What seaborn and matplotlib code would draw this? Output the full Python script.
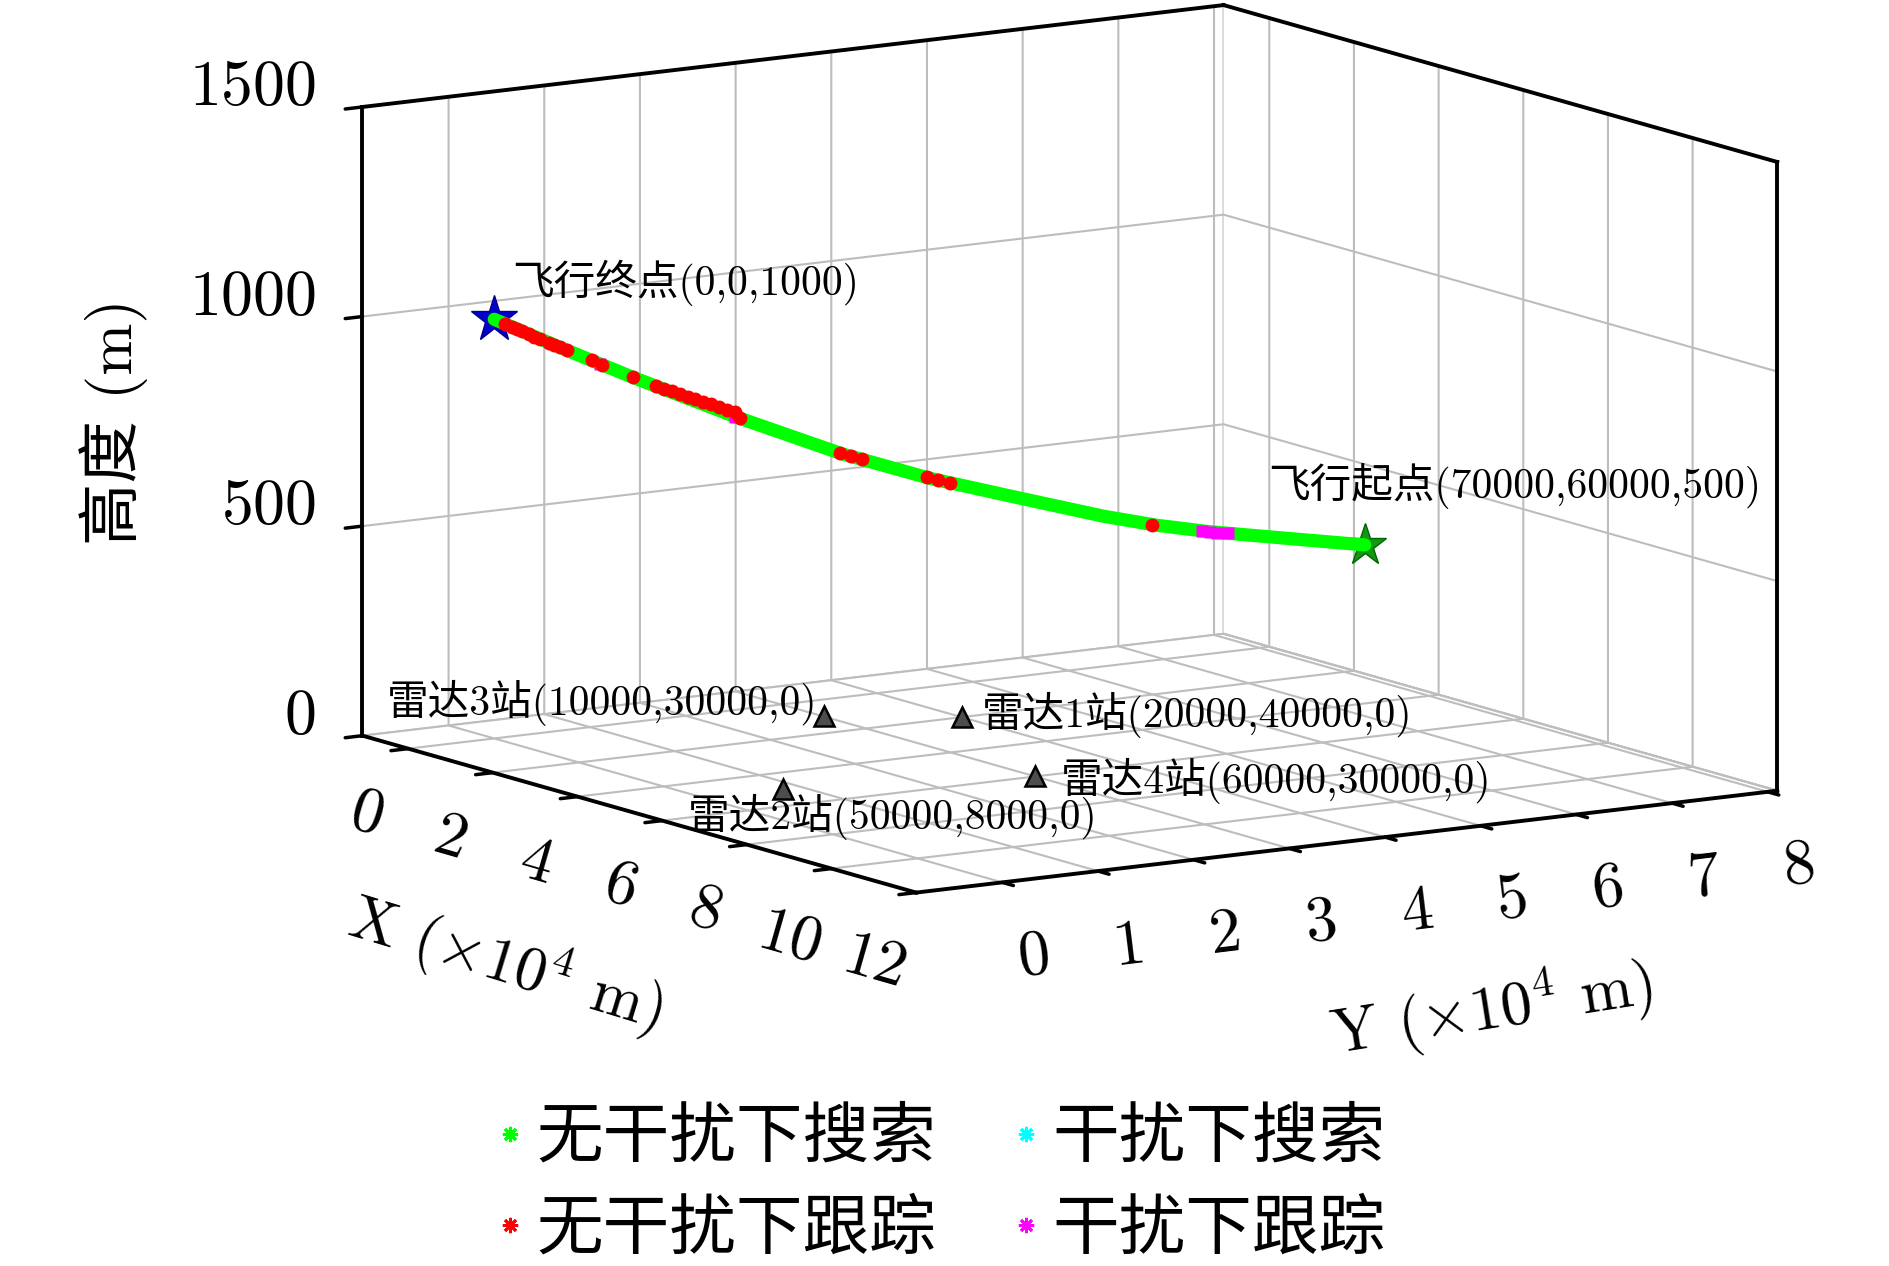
import numpy as np
import matplotlib
matplotlib.use("Agg")
import matplotlib.pyplot as plt
import matplotlib.transforms as mtransforms
from matplotlib.lines import Line2D
from mpl_toolkits.mplot3d import proj3d
import seaborn as sns

# flight path (m), read along the curve from the end point back to the start point
path_x = [0, 5600, 11200, 19600, 28000, 35000, 42000, 49000, 53200, 57400, 64400, 70000]
path_y = [0, 4800, 9600, 16800, 24000, 30000, 36000, 42000, 45600, 49200, 55200, 60000]
path_z = [1000, 932, 867, 776, 694, 640, 598, 557, 538, 525, 511, 500]

# tracking without jamming (red dots on the path)
trk_x = [840, 1400, 1820, 2240, 2800, 3220, 3640, 4410, 4830, 5250, 5880, 7840, 8680, 11130,
         13020, 13650, 14280, 14910, 15540, 16170, 16800, 17430, 18060, 18690, 19320, 19740,
         27790, 28700, 29610, 34790, 35700, 36610, 52920]
trk_y = [720, 1200, 1560, 1920, 2400, 2760, 3120, 3780, 4140, 4500, 5040, 6720, 7440, 9540,
         11160, 11700, 12240, 12780, 13320, 13860, 14400, 14940, 15480, 16020, 16560, 16920,
         23820, 24600, 25380, 29820, 30600, 31380, 45360]
trk_z = [990, 983, 978, 973, 966, 960, 955, 946, 941, 936, 929, 906, 896, 868,
         847, 841, 836, 830, 824, 818, 813, 807, 801, 795, 789, 775,
         696, 689, 682, 642, 636, 630, 539]

# tracking under jamming (magenta)
jtrk_x = [8470, 19320, 56910, 57540, 58100, 59010]
jtrk_y = [7260, 16560, 48780, 49320, 49800, 50580]
jtrk_z = [898, 778, 526, 525, 523, 522]

# search under jamming (cyan) - nothing visible on the path
jsrch_x, jsrch_y, jsrch_z = [], [], []

radar_names = ["雷达1站", "雷达2站", "雷达3站", "雷达4站"]
radar_x = [20000, 50000, 10000, 60000]
radar_y = [40000, 8000, 30000, 30000]
radar_z = [0, 0, 0, 0]

start_pt = (70000, 60000, 500)
end_pt = (0, 0, 1000)

legend_labels = ["无干扰下搜索", "无干扰下跟踪", "干扰下搜索", "干扰下跟踪"]
state_colors = sns.color_palette(["#00ff00", "#ff0000", "#00ffff", "#ff00ff"])

x_ticks = [0, 20000, 40000, 60000, 80000, 100000, 120000]
x_ticklabels = ["0", "2", "4", "6", "8", "10", "12"]
y_ticks = [0, 10000, 20000, 30000, 40000, 50000, 60000, 70000, 80000]
y_ticklabels = ["0", "1", "2", "3", "4", "5", "6", "7", "8"]
z_ticks = [0, 500, 1000, 1500]

XLIM = (-10800, 120000)
YLIM = (-9000, 81000)
ZLIM = (0, 1500)

sns.set_style("white")
plt.rcParams["font.family"] = ["cmr10", "Noto Sans CJK SC", "DejaVu Sans"]
plt.rcParams["mathtext.fontset"] = "cm"
plt.rcParams["axes.unicode_minus"] = False
plt.rcParams["axes.formatter.use_mathtext"] = True
plt.rcParams["grid.color"] = "#bdbdbd"
plt.rcParams["grid.linewidth"] = 1.5
plt.rcParams["xtick.color"] = "black"
plt.rcParams["ytick.color"] = "black"
plt.rcParams["text.color"] = "black"
plt.rcParams["axes.labelcolor"] = "black"

W, H = 1890, 1266
fig = plt.figure(figsize=(W / 100, H / 100), dpi=100)
ax = fig.add_axes([0.1, 0.1, 0.8, 0.8], projection="3d")
ax.set_proj_type("ortho")
ax.view_init(elev=10.55, azim=-32.87)
ax.set_box_aspect((1021, 1026, 640))
ax.computed_zorder = False
ax.set_xlim(*XLIM)
ax.set_ylim(*YLIM)
ax.set_zlim(*ZLIM)

ax.set_xticks(x_ticks)
ax.set_xticklabels(x_ticklabels)
ax.set_yticks(y_ticks)
ax.set_yticklabels(y_ticklabels)
ax.set_zticks(z_ticks)
ax.grid(True)
ax.zaxis.set_ticks_position("lower")
ax.zaxis.set_label_position("lower")

for axis in (ax.xaxis, ax.yaxis, ax.zaxis):
    axis.set_pane_color((1, 1, 1, 1))
    axis.pane.set_edgecolor("#bdbdbd")
    axis.pane.set_linewidth(1.5)
    axis.line.set_color((0, 0, 0, 0))
    axis._axinfo["tick"]["inward_factor"] = 0.25
    axis._axinfo["tick"]["outward_factor"] = 0.0
    axis._axinfo["tick"]["linewidth"] = {True: 2.5, False: 1.0}
    axis._axinfo["grid"]["color"] = "#bdbdbd"
    axis._axinfo["grid"]["linewidth"] = 1.5

ax.tick_params(axis="x", labelsize=46, pad=20, labelrotation=-16)
ax.tick_params(axis="y", labelsize=46, pad=25, labelrotation=7)
ax.tick_params(axis="z", labelsize=46, pad=11)
for t in ax.get_zticklabels():
    t.set_ha("right")
    t.set_va("baseline")

ax.set_xlabel("")
ax.set_ylabel("")
ax.set_zlabel("")
fig.text(506 / W, 1 - 964 / H, r"X ($\times10^4$ m)", fontsize=45, rotation=-17,
         ha="center", va="center", rotation_mode="anchor")
fig.text(1492 / W, 1 - 1010 / H, r"Y ($\times10^4$ m)", fontsize=45, rotation=9,
         ha="center", va="center", rotation_mode="anchor")
fig.text(114 / W, 1 - 422 / H, "高度 (m)", fontsize=45, rotation=90,
         ha="center", va="center", rotation_mode="anchor")

# black box frame (MATLAB style)
x0, x1 = XLIM
y0, y1 = YLIM
z0, z1 = ZLIM
frame = [((x0, x0), (y0, y0), (z0, z1)),
         ((x0, x1), (y0, y0), (z0, z0)),
         ((x1, x1), (y0, y1), (z0, z0)),
         ((x0, x0), (y0, y1), (z1, z1)),
         ((x0, x1), (y1, y1), (z1, z1)),
         ((x1, x1), (y1, y1), (z0, z1))]
for fx, fy, fz in frame:
    ax.plot(fx, fy, fz, color="black", lw=2.8, zorder=1, solid_capstyle="projecting")

# start / end stars
ax.plot([end_pt[0]], [end_pt[1]], [end_pt[2]], ls="none", marker="*", ms=35,
        mfc="#0000cd", mec="#00008b", zorder=2)
ax.plot([start_pt[0]], [start_pt[1]], [start_pt[2]], ls="none", marker="*", ms=32,
        mfc="#119911", mec="#006400", zorder=2)

# flight path states
ax.plot(path_x, path_y, path_z, color=state_colors[0], lw=9.5, zorder=3,
        solid_capstyle="round")
ax.plot(jtrk_x, jtrk_y, jtrk_z, ls="none", marker="s", ms=8, mfc=state_colors[3],
        mec="none", zorder=3.5)
ax.plot(trk_x, trk_y, trk_z, ls="none", marker="o", ms=10, mfc=state_colors[1],
        mec="none", zorder=4)
ax.plot(jsrch_x, jsrch_y, jsrch_z, ls="none", marker="o", ms=10, mfc=state_colors[2],
        mec="none", zorder=4)

# radar stations
ax.plot(radar_x, radar_y, radar_z, ls="none", marker="^", ms=15, mfc="#4d4d4d",
        mec="black", mew=1.8, zorder=6)


def label3d(x, y, z, s, dx, dy, ha="left"):
    tr = mtransforms.offset_copy(ax.transData, fig=fig, x=dx, y=dy, units="dots")
    ax.text(x, y, z, s, transform=tr, ha=ha, va="center", fontsize=30, zorder=7)


label3d(*end_pt, "飞行终点(%d,%d,%d)" % end_pt, 18, 36)
label3d(*start_pt, "飞行起点(%d,%d,%d)" % start_pt, -97, 59)
radar_offsets = [(20, 2, "left"), (-95, -28, "left"), (-6, 14, "right"), (25, -5, "left")]
for name, rx, ry, rz, (dx, dy, ha) in zip(radar_names, radar_x, radar_y, radar_z, radar_offsets):
    label3d(rx, ry, rz, "%s(%d,%d,%d)" % (name, rx, ry, rz), dx, dy, ha)

# legend
handles = [Line2D([], [], ls="none", marker=(8, 2, 0), ms=11, mew=2, color=c)
           for c in state_colors]
fig.legend(handles, legend_labels, ncol=2, loc="center", bbox_to_anchor=(0.497, 0.064),
           frameon=False, fontsize=48, handlelength=0.5, handletextpad=0.15,
           columnspacing=1.1, labelspacing=0.45)

# place the box so that its corners land where the reference has them
fig.canvas.draw()
corners = np.array([(x0, y0, z0), (x1, y0, z0), (x1, y1, z0), (x0, y1, z1), (x0, y0, z1)])
targets = np.array([(362, 735), (918, 892), (1777, 792), (1223, 6), (362, 106)], float)
targets[:, 1] = H - targets[:, 1]
px, py, _ = proj3d.proj_transform(corners[:, 0], corners[:, 1], corners[:, 2], ax.get_proj())
pix = ax.transData.transform(np.column_stack([px, py]))
bb = ax.bbox
fxs = (pix[:, 0] - bb.x0) / bb.width
fys = (pix[:, 1] - bb.y0) / bb.height
n = len(corners)
A = np.zeros((2 * n, 3))
b = np.zeros(2 * n)
A[:n, 0] = fxs
A[:n, 1] = 1
A[n:, 0] = fys
A[n:, 2] = 1
b[:n] = targets[:, 0]
b[n:] = targets[:, 1]
side, ox, oy = np.linalg.lstsq(A, b, rcond=None)[0]
ax.set_position([ox / W, oy / H, side / W, side / H])

fig.savefig("out.png", dpi=100)
